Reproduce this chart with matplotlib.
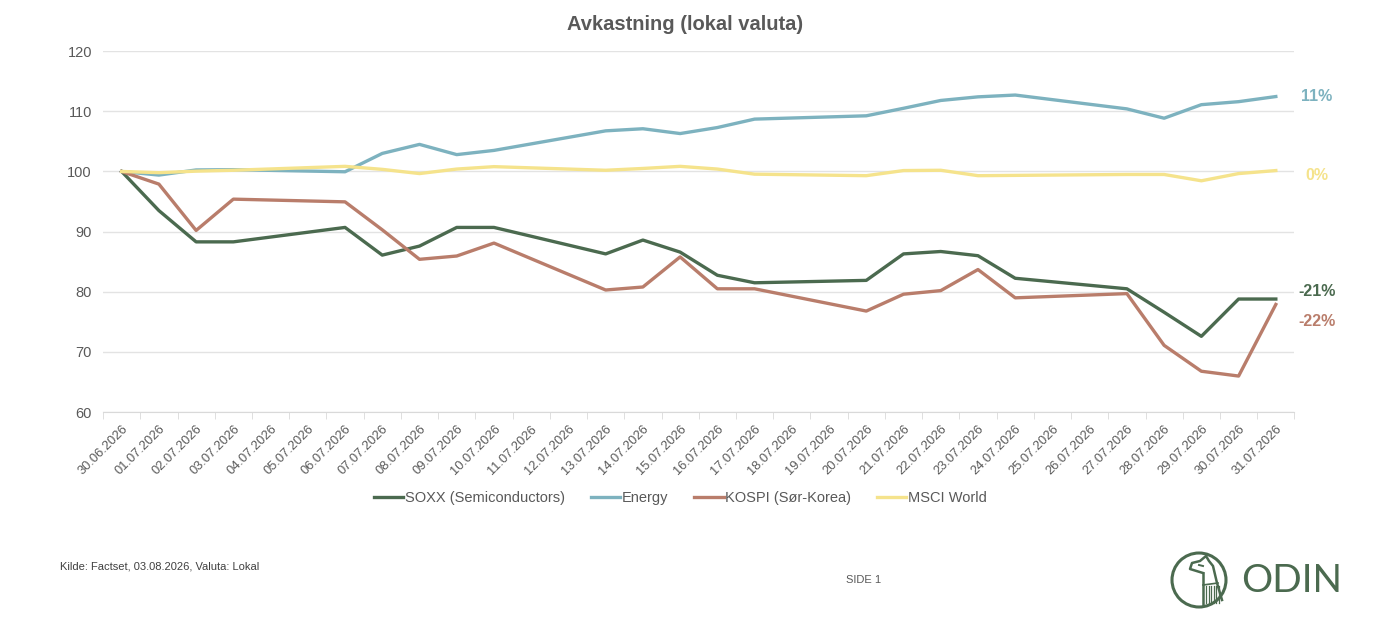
import numpy as np
import matplotlib
matplotlib.use("Agg")
from matplotlib import pyplot as plt
from matplotlib.patches import Circle

plt.rcParams['font.family'] = ['Liberation Sans', 'DejaVu Sans']

dates = ['30.06.2026', '01.07.2026', '02.07.2026', '03.07.2026', '04.07.2026', '05.07.2026',
         '06.07.2026', '07.07.2026', '08.07.2026', '09.07.2026', '10.07.2026', '11.07.2026',
         '12.07.2026', '13.07.2026', '14.07.2026', '15.07.2026', '16.07.2026', '17.07.2026',
         '18.07.2026', '19.07.2026', '20.07.2026', '21.07.2026', '22.07.2026', '23.07.2026',
         '24.07.2026', '25.07.2026', '26.07.2026', '27.07.2026', '28.07.2026', '29.07.2026',
         '30.07.2026', '31.07.2026']
nan = np.nan
# weekend days have no value, the line is drawn straight across them
soxx = [100, 93.5, 88.3, 88.3, nan, nan, 90.7, 86.1, 87.6, 90.7, 90.7, nan, nan, 86.3, 88.6,
        86.6, 82.75, 81.5, nan, nan, 81.9, 86.3, 86.7, 86.0, 82.25, nan, nan, 80.5, 76.6,
        72.6, 78.8, 78.8]
energy = [100, 99.4, 100.25, 100.3, nan, nan, 99.95, 103.0, 104.5, 102.8, 103.5, nan, nan,
          106.75, 107.1, 106.3, 107.3, 108.7, nan, nan, 109.25, 110.5, 111.8, 112.4, 112.7,
          nan, nan, 110.4, 108.85, 111.1, 111.6, 112.45]
kospi = [100, 97.9, 90.2, 95.4, nan, nan, 94.95, 90.3, 85.4, 85.95, 88.1, nan, nan, 80.3,
         80.8, 85.8, 80.5, 80.5, nan, nan, 76.8, 79.6, 80.2, 83.7, 79.0, nan, nan, 79.7,
         71.1, 66.8, 66.0, 77.9]
msci = [100, 99.8, 100.05, 100.2, nan, nan, 100.85, 100.35, 99.65, 100.4, 100.8, nan, nan,
        100.2, 100.5, 100.85, 100.4, 99.55, nan, nan, 99.3, 100.15, 100.2, 99.3, 99.35, nan,
        nan, 99.5, 99.5, 98.45, 99.65, 100.15]

names = ['SOXX (Semiconductors)', 'Energy', 'KOSPI (Sør-Korea)', 'MSCI World']
end_labels = ['-21%', '11%', '-22%', '0%']
colors = ['#4b6a4f', '#7db2bf', '#b97d6b', '#f5e38c']
series = [soxx, energy, kospi, msci]

fig = plt.figure(figsize=(14, 6.39), dpi=100)
ax = fig.add_axes([0.0736, 0.355, 0.851, 0.565])

x = np.arange(len(dates))
for vals, name, col in zip(series, names, colors):
    v = np.array(vals, dtype=float)
    m = ~np.isnan(v)
    ax.plot(x[m], v[m], color=col, lw=2.4, label=name)

# end labels to the right of the plot
label_y = {'-21%': 80.1, '11%': 112.4, '-22%': 75.1, '0%': 99.4}
for lab, col in zip(end_labels, colors):
    ax.text(len(dates) - 0.5 + 0.6, label_y[lab], lab, color=col, fontsize=11.5,
            fontweight='bold', va='center', ha='center', clip_on=False)

ax.set_ylim(60, 120)
ax.set_yticks(range(60, 121, 10))
ax.set_xlim(-0.5, len(dates) - 0.5)
ax.set_xticks(x)
ax.set_xticklabels(dates, rotation=45, ha='right', rotation_mode='anchor',
                   fontsize=9.3, color='#595959')
ax.tick_params(axis='x', length=0, pad=8)
ax.set_xticks(np.arange(-0.5, len(dates), 1), minor=True)
ax.tick_params(axis='x', which='minor', length=5, color='#d9d9d9')
ax.tick_params(axis='y', length=0, labelsize=10.5, labelcolor='#595959', pad=8)
ax.grid(axis='y', color='#e3e3e3', lw=1)
ax.set_axisbelow(True)
for s in ['top', 'right', 'left']:
    ax.spines[s].set_visible(False)
ax.spines['bottom'].set_color('#d9d9d9')

fig.text(0.489, 0.962, 'Avkastning (lokal valuta)', fontsize=14.5, fontweight='bold',
         color='#595959', ha='center', va='center')

fig.legend(loc='center', bbox_to_anchor=(0.486, 0.22), ncol=4, frameon=False,
           fontsize=10.5, handlelength=2.0, handletextpad=0.1, columnspacing=1.8,
           labelcolor='#595959')

fig.text(0.043, 0.114, 'Kilde: Factset, 03.08.2026, Valuta: Lokal', fontsize=8,
         color='#404040', va='center')
fig.text(0.617, 0.092, 'SIDE 1', fontsize=8, color='#595959', va='center', ha='center')

# ODIN logo (simplified)
green = '#4b6a4f'
lax = fig.add_axes([0, 0, 1, 1], facecolor='none')
lax.set_xlim(0, 1400)
lax.set_ylim(639, 0)
lax.axis('off')
lax.add_patch(Circle((1199, 580), 27, fill=False, ec=green, lw=2.2))
# horse head: snout, ear, neck
lax.plot([1203, 1190, 1192, 1200, 1206, 1209, 1213, 1217, 1222],
         [573, 569, 563, 561, 556, 561, 566, 583, 600], color=green, lw=1.8)
lax.plot([1203, 1203], [573, 604], color=green, lw=1.8)
lax.plot([1199, 1203], [565, 566], color=green, lw=1.4)
for xx in np.arange(1206, 1220, 2.6):
    lax.plot([xx, xx], [586, 603], color=green, lw=0.9)
lax.plot([1203, 1218], [585, 583], color=green, lw=1.2)
lax.text(1292, 581, 'ODIN', fontsize=28, color=green, ha='center', va='center',
         family=['Lato', 'DejaVu Sans'])

fig.savefig('out.png', dpi=100, facecolor='white')
